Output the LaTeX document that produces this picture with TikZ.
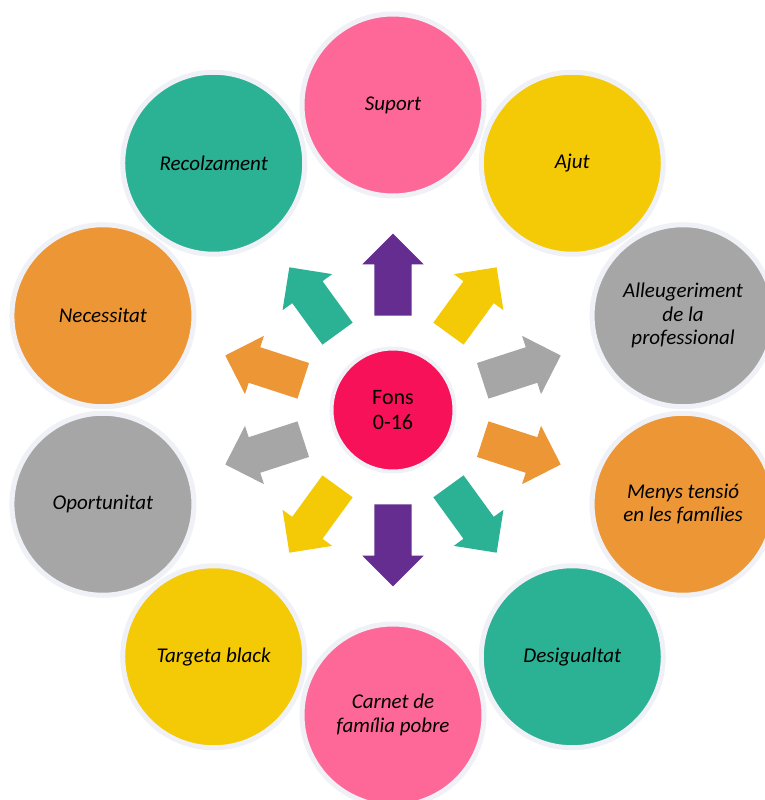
\documentclass[tikz,border=0pt]{standalone}
\usepackage{fontspec}
\setmainfont{Carlito}
\usetikzlibrary{shapes.arrows}
\definecolor{PinkColor}{HTML}{FE6898}
\definecolor{TealColor}{HTML}{2BB194}
\definecolor{YellowColor}{HTML}{F4C905}
\definecolor{GrayColor}{HTML}{A6A6A6}
\definecolor{OrangeColor}{HTML}{EC9636}
\definecolor{PurpleColor}{HTML}{662D91}
\definecolor{CoreColor}{HTML}{F71159}
\definecolor{RingColor}{HTML}{EFF1F6}

\begin{document}
\begin{tikzpicture}[x=1pt,y=1pt]
\tikzstyle{ball} = [circle, draw=RingColor, line width=5pt, minimum size=182pt, align=center, text=black, font=\fontsize{21}{23.5}\selectfont\itshape]
\tikzstyle{core} = [circle, draw=RingColor, line width=4pt, fill=CoreColor, minimum size=123pt, align=center, text=black, font=\fontsize{22}{25}\selectfont]
\tikzstyle{pointer} = [single arrow, single arrow head extend=12pt, minimum height=82pt, minimum width=61pt, inner xsep=0pt, inner ysep=18.5pt, outer sep=0pt, draw=none]

\path [fill=white] (-393,-390) rectangle (372,410);
\clip (-393,-390) rectangle (372,410);

\node [core] at (0,0) (fons) {Fons\\0-16};

\node [pointer, fill=PurpleColor, rotate=90] at (90:126) (p1) {};
\node [pointer, fill=YellowColor, rotate=54] at (54:126) (p2) {};
\node [pointer, fill=GrayColor, rotate=18] at (18:126) (p3) {};
\node [pointer, fill=OrangeColor, rotate=-18] at (-18:126) (p4) {};
\node [pointer, fill=TealColor, rotate=-54] at (-54:126) (p5) {};
\node [pointer, fill=PurpleColor, rotate=-90] at (-90:126) (p6) {};
\node [pointer, fill=YellowColor, rotate=-126] at (-126:126) (p7) {};
\node [pointer, fill=GrayColor, rotate=-162] at (-162:126) (p8) {};
\node [pointer, fill=OrangeColor, rotate=162] at (162:126) (p9) {};
\node [pointer, fill=TealColor, rotate=126] at (126:126) (p10) {};

\node [ball, fill=PinkColor] at (90:305) (suport) {Suport};
\node [ball, fill=YellowColor] at (54:305) (ajut) {Ajut};
\node [ball, fill=GrayColor] at (18:305) (alleug) {Alleugeriment\\de la\\professional};
\node [ball, fill=OrangeColor] at (-18:305) (menys) {Menys tensió\\en les famílies};
\node [ball, fill=TealColor] at (-54:305) (desig) {Desigualtat};
\node [ball, fill=PinkColor] at (-90:305) (carnet) {Carnet de\\família pobre};
\node [ball, fill=YellowColor] at (-126:305) (targeta) {Targeta black};
\node [ball, fill=GrayColor] at (-162:305) (oport) {Oportunitat};
\node [ball, fill=OrangeColor] at (162:305) (necess) {Necessitat};
\node [ball, fill=TealColor] at (126:305) (recolz) {Recolzament};

\end{tikzpicture}
\end{document}
